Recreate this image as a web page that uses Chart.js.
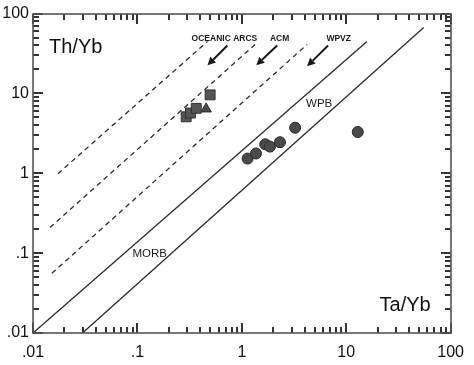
<!DOCTYPE html>
<html><head><meta charset="utf-8">
<script src="https://cdn.jsdelivr.net/npm/chart.js@4/dist/chart.umd.min.js"></script>
<style>html,body{margin:0;padding:0;background:#fff}</style>
</head><body><canvas id="c" width="474" height="365"></canvas>
<script>
// ---- data ----
const tickValues = [0.01, 0.1, 1, 10, 100];
const tickLabels = ['.01', '.1', '1', '10', '100'];
const minorMultipliers = [2, 3, 4, 5, 6, 7, 8, 9];

const squaresX = [0.293, 0.322, 0.366, 0.497];
const squaresY = [5.1, 5.68, 6.51, 9.6];
const triangleX = [0.455];
const triangleY = [6.4];
const circlesX = [1.135, 1.367, 1.676, 1.859, 2.32, 3.24, 12.9];
const circlesY = [1.53, 1.77, 2.31, 2.16, 2.45, 3.72, 3.29];

// boundary lines (end points)
const oceanicLineX = [0.0173, 0.469];
const oceanicLineY = [0.986, 44.8];
const acmLineX = [0.01453, 1.375];
const acmLineY = [0.2094, 42.3];
const wpvzLineX = [0.01518, 4.22];
const wpvzLineY = [0.056, 41.1];
const arrayUpperX = [0.01, 15.8];
const arrayUpperY = [0.01, 44.8];
const arrayLowerX = [0.0298, 55.2];
const arrayLowerY = [0.01, 67];

// arrows (start -> end)
const arrowStartX = [0.728, 2.18, 6.7];
const arrowStartY = [39.9, 39.9, 39.9];
const arrowEndX = [0.469, 1.375, 4.22];
const arrowEndY = [22.5, 22.5, 21.9];

// field labels
const fieldLabels = ['OCEANIC ARCS', 'ACM', 'WPVZ', 'WPB', 'MORB'];
const fieldLabelX = [0.681, 2.30, 8.47, 5.5, 0.131];
const fieldLabelY = [49.2, 49.2, 49.2, 7.35, 0.0993];
const fieldLabelBold = [true, true, true, false, false];

const xTitle = 'Ta/Yb';
const yTitle = 'Th/Yb';

// ---- helpers ----
const zip = (xs, ys) => xs.map((x, i) => ({x: x, y: ys[i]}));
const FONT = "'Liberation Sans', Arial, Helvetica, sans-serif";

function lineDs(xs, ys, dashed) {
  return {
    type: 'scatter', data: zip(xs, ys), showLine: true,
    borderColor: '#2b2b2b', borderWidth: 1.3, borderDash: dashed ? [5, 4] : [],
    pointRadius: 0, order: 5, clip: false
  };
}

function seg(ctx, x1, y1, x2, y2) {
  ctx.beginPath(); ctx.moveTo(x1, y1); ctx.lineTo(x2, y2); ctx.stroke();
}

const decorations = {
  id: 'decorations',
  afterDraw(chart) {
    const ctx = chart.ctx, a = chart.chartArea;
    const xs = chart.scales.x, ys = chart.scales.y;
    ctx.save();
    ctx.setLineDash([]);
    ctx.globalAlpha = 1;
    ctx.strokeStyle = '#333333';
    ctx.lineWidth = 2;
    const L = Math.round(a.left), R = Math.round(a.right), T = Math.round(a.top), B = Math.round(a.bottom);
    for (let k = 0; k < tickValues.length; k++) {
      const list = [{v: tickValues[k], len: 10}];
      if (k < tickValues.length - 1) minorMultipliers.forEach(m => list.push({v: tickValues[k] * m, len: 6}));
      list.forEach(t => {
        const px = Math.round(xs.getPixelForValue(t.v));
        seg(ctx, px, B, px, B - t.len);
        seg(ctx, px, T, px, T + t.len);
        const py = Math.round(ys.getPixelForValue(t.v));
        seg(ctx, L, py, L + t.len, py);
        seg(ctx, R, py, R - t.len, py);
      });
    }
    ctx.strokeStyle = '#555555';
    ctx.lineWidth = 1.6;
    ctx.strokeRect(L, T, R - L, B - T);

    // arrows
    ctx.strokeStyle = '#1a1a1a';
    ctx.fillStyle = '#1a1a1a';
    ctx.lineWidth = 2;
    arrowStartX.forEach((sx, i) => {
      const x1 = xs.getPixelForValue(sx), y1 = ys.getPixelForValue(arrowStartY[i]);
      const x2 = xs.getPixelForValue(arrowEndX[i]), y2 = ys.getPixelForValue(arrowEndY[i]);
      const ang = Math.atan2(y2 - y1, x2 - x1);
      const hl = 8, hw = 4;
      const bx = x2 - hl * Math.cos(ang), by = y2 - hl * Math.sin(ang);
      seg(ctx, x1, y1, bx, by);
      ctx.beginPath();
      ctx.moveTo(x2, y2);
      ctx.lineTo(bx + hw * Math.sin(ang), by - hw * Math.cos(ang));
      ctx.lineTo(bx - hw * Math.sin(ang), by + hw * Math.cos(ang));
      ctx.closePath(); ctx.fill();
    });
    // field labels
    ctx.fillStyle = '#1a1a1a';
    ctx.textAlign = 'center';
    ctx.textBaseline = 'middle';
    fieldLabels.forEach((t, i) => {
      ctx.font = fieldLabelBold[i] ? 'bold 8.5px ' + FONT : '11.5px ' + FONT;
      ctx.fillText(t, xs.getPixelForValue(fieldLabelX[i]), ys.getPixelForValue(fieldLabelY[i]));
    });
    // axis titles
    ctx.fillStyle = '#111';
    ctx.font = '20px ' + FONT;
    ctx.textAlign = 'left';
    ctx.fillText(yTitle, a.left + 16, a.top + 34);
    ctx.textAlign = 'right';
    ctx.fillText(xTitle, a.right - 20, a.bottom - 28);
    ctx.restore();
  }
};

const labelFor = v => {
  const i = tickValues.findIndex(t => Math.abs(Math.log10(t) - Math.log10(v)) < 1e-6);
  return i >= 0 ? tickLabels[i] : '';
};

new Chart(document.getElementById('c'), {
  type: 'scatter',
  data: {
    datasets: [
      {data: zip(circlesX, circlesY), pointStyle: 'circle', pointRadius: 5.5,
       backgroundColor: '#4a4a4a', borderColor: '#2a2a2a', borderWidth: 1, order: 1},
      {data: zip(squaresX, squaresY), pointStyle: 'rect', pointRadius: 7,
       backgroundColor: '#555', borderColor: '#333', borderWidth: 1, order: 1},
      {data: zip(triangleX, triangleY), pointStyle: 'triangle', pointRadius: 6,
       backgroundColor: '#4a4a4a', borderColor: '#2a2a2a', borderWidth: 1, order: 1},
      lineDs(oceanicLineX, oceanicLineY, true),
      lineDs(acmLineX, acmLineY, true),
      lineDs(wpvzLineX, wpvzLineY, true),
      lineDs(arrayUpperX, arrayUpperY, false),
      lineDs(arrayLowerX, arrayLowerY, false)
    ]
  },
  options: {
    responsive: false, animation: false, devicePixelRatio: 1,
    layout: {padding: {top: 12, right: 22, left: 0, bottom: 0}},
    plugins: {legend: {display: false}, tooltip: {enabled: false}},
    scales: {
      x: {
        type: 'logarithmic', min: 0.01, max: 100, position: 'bottom',
        grid: {display: false, drawTicks: false}, border: {display: false},
        afterBuildTicks: s => { s.ticks = tickValues.map(v => ({value: v})); },
        afterFit: s => { s.height = 32; },
        ticks: {callback: v => labelFor(v), font: {family: FONT, size: 16}, color: '#111',
                padding: 10, maxRotation: 0, autoSkip: false}
      },
      y: {
        type: 'logarithmic', min: 0.01, max: 100, position: 'left',
        grid: {display: false, drawTicks: false}, border: {display: false},
        afterBuildTicks: s => { s.ticks = tickValues.map(v => ({value: v})); },
        afterFit: s => { s.width = 33; },
        ticks: {callback: v => labelFor(v), font: {family: FONT, size: 16}, color: '#111',
                padding: 4, autoSkip: false}
      }
    }
  },
  plugins: [decorations]
});
</script>
</body></html>
